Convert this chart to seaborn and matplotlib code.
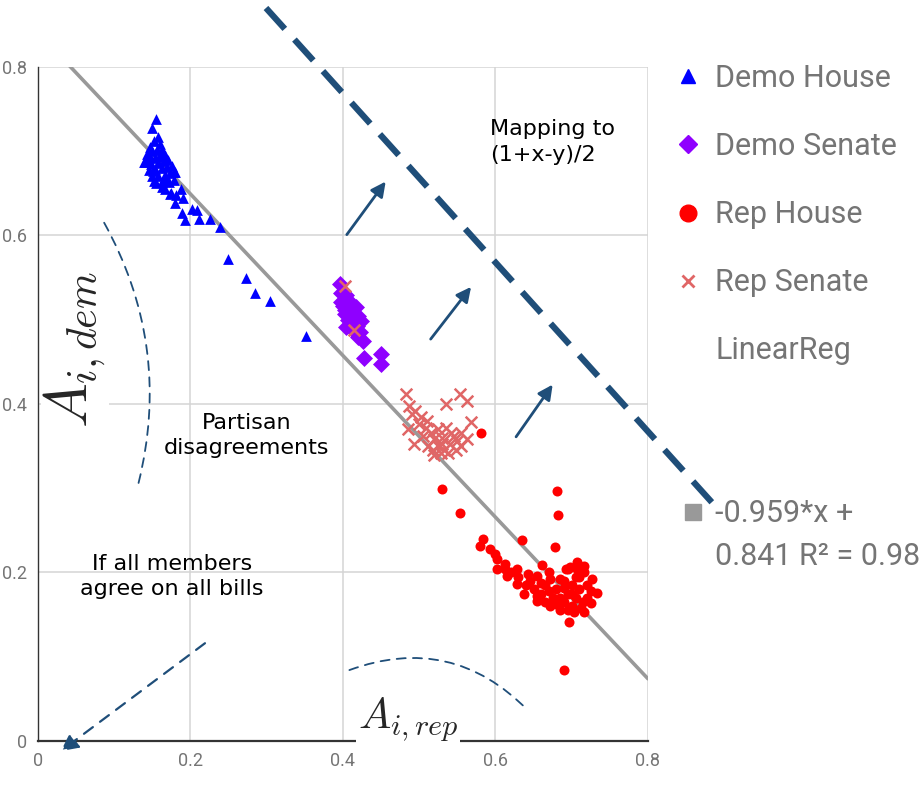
"""
Scatter of Democrat vs Republican agreement scores with the linear fit and the
annotations explaining the mapping to (1+x-y)/2.
"""

import matplotlib
matplotlib.use('Agg')
import matplotlib.pyplot as plt
from matplotlib.lines import Line2D
from matplotlib.patches import FancyArrowPatch
import seaborn as sns
import pandas as pd
import numpy as np

# Points, (A_rep, A_dem)
demo_house = [
    (0.155, 0.738), (0.149, 0.727), (0.158, 0.717), (0.152, 0.712), (0.147, 0.705),
    (0.160, 0.708), (0.143, 0.697), (0.150, 0.700), (0.156, 0.702), (0.163, 0.701),
    (0.145, 0.690), (0.153, 0.692), (0.161, 0.694), (0.167, 0.695), (0.140, 0.687),
    (0.148, 0.685), (0.157, 0.686), (0.165, 0.688), (0.171, 0.690), (0.146, 0.678),
    (0.154, 0.679), (0.162, 0.680), (0.169, 0.681), (0.176, 0.683), (0.150, 0.670),
    (0.158, 0.671), (0.166, 0.672), (0.173, 0.674), (0.180, 0.675), (0.155, 0.662),
    (0.163, 0.663), (0.172, 0.664), (0.178, 0.666), (0.187, 0.655), (0.167, 0.655),
    (0.174, 0.650), (0.181, 0.648), (0.190, 0.645), (0.189, 0.627), (0.193, 0.618),
    (0.202, 0.632), (0.209, 0.630), (0.211, 0.619), (0.226, 0.619), (0.239, 0.610),
    (0.249, 0.572), (0.273, 0.550), (0.284, 0.532), (0.304, 0.522), (0.351, 0.481),
    (0.139, 0.687), (0.152, 0.665), (0.163, 0.657), (0.173, 0.649), (0.180, 0.638),
    (0.178, 0.675), (0.146, 0.695), (0.159, 0.693), (0.151, 0.676), (0.168, 0.667),
]

demo_senate = [
    (0.396, 0.542), (0.398, 0.532), (0.404, 0.529), (0.398, 0.521), (0.408, 0.522),
    (0.412, 0.518), (0.417, 0.515), (0.402, 0.512), (0.409, 0.510), (0.402, 0.507),
    (0.414, 0.506), (0.420, 0.505), (0.424, 0.499), (0.406, 0.500), (0.412, 0.497),
    (0.404, 0.491), (0.418, 0.492), (0.415, 0.487), (0.422, 0.485), (0.426, 0.475),
    (0.428, 0.455), (0.450, 0.459), (0.450, 0.447), (0.400, 0.516), (0.410, 0.503),
    (0.420, 0.480),
]

rep_house = [
    (0.581, 0.366), (0.530, 0.299), (0.554, 0.270), (0.584, 0.240), (0.580, 0.232),
    (0.593, 0.228), (0.600, 0.222), (0.602, 0.216), (0.602, 0.204), (0.635, 0.239),
    (0.681, 0.297), (0.682, 0.268), (0.678, 0.230), (0.661, 0.209), (0.670, 0.200),
    (0.707, 0.213), (0.716, 0.208), (0.697, 0.141), (0.690, 0.084), (0.695, 0.204),
    (0.613, 0.210), (0.628, 0.204), (0.642, 0.198), (0.655, 0.196), (0.672, 0.192),
    (0.685, 0.192), (0.692, 0.204), (0.698, 0.206), (0.707, 0.204), (0.716, 0.200),
    (0.727, 0.192), (0.733, 0.176), (0.725, 0.164), (0.716, 0.153), (0.703, 0.153),
    (0.685, 0.156), (0.672, 0.160), (0.655, 0.166), (0.637, 0.174), (0.628, 0.186),
    (0.615, 0.196), (0.613, 0.204), (0.620, 0.200), (0.640, 0.185), (0.650, 0.180),
    (0.660, 0.175), (0.665, 0.185), (0.675, 0.170), (0.680, 0.180), (0.690, 0.165),
    (0.695, 0.175), (0.700, 0.185), (0.705, 0.170), (0.710, 0.180), (0.715, 0.165),
    (0.720, 0.185), (0.725, 0.178), (0.700, 0.160), (0.690, 0.190), (0.710, 0.195),
    (0.720, 0.170), (0.695, 0.155), (0.685, 0.170), (0.670, 0.178), (0.660, 0.188),
    (0.645, 0.190), (0.630, 0.195), (0.655, 0.172), (0.705, 0.195), (0.712, 0.158),
    (0.700, 0.175), (0.690, 0.182), (0.680, 0.162), (0.665, 0.165),
]

rep_senate = [
    (0.402, 0.540), (0.415, 0.488), (0.482, 0.412), (0.486, 0.398), (0.491, 0.388),
    (0.485, 0.370), (0.493, 0.353), (0.500, 0.376), (0.509, 0.372), (0.505, 0.362),
    (0.515, 0.366), (0.520, 0.358), (0.525, 0.370), (0.530, 0.360), (0.535, 0.400),
    (0.553, 0.412), (0.562, 0.404), (0.568, 0.378), (0.562, 0.358), (0.512, 0.350),
    (0.518, 0.345), (0.525, 0.350), (0.532, 0.345), (0.540, 0.352), (0.545, 0.362),
    (0.550, 0.356), (0.555, 0.366), (0.528, 0.342), (0.538, 0.342), (0.548, 0.345),
    (0.535, 0.372), (0.542, 0.365), (0.502, 0.385), (0.495, 0.392), (0.510, 0.380),
    (0.555, 0.350), (0.530, 0.352), (0.520, 0.340),
]

# Linear regression shown in the legend
REG_SLOPE = -0.959
REG_INTERCEPT = 0.841
REG_R2 = 0.98

TICKS = [0, 0.2, 0.4, 0.6, 0.8]
TICK_LABELS = ["0", "0.2", "0.4", "0.6", "0.8"]

NAVY = "#1f4e79"
GREY_TEXT = "#757575"

sns.set_theme(style="whitegrid")
plt.rcParams['font.family'] = ['DejaVu Sans']
plt.rcParams['mathtext.fontset'] = 'cm'


def to_df(points):
    return pd.DataFrame(points, columns=["rep", "dem"])


fig = plt.figure(figsize=(9.22, 7.86), dpi=100)
ax = fig.add_axes([0.0412, 0.0573, 0.6616, 0.8575])

# Regression line, clipped by the axes limits
reg_x = np.array([0.0, 0.8])
sns.lineplot(x=reg_x, y=REG_SLOPE * reg_x + REG_INTERCEPT, color="#999999", linewidth=2.6, ax=ax, zorder=2)

sns.scatterplot(data=to_df(demo_house), x="rep", y="dem", marker="^", color="#0000ff", s=60, linewidth=0, ax=ax, zorder=3)
sns.scatterplot(data=to_df(demo_senate), x="rep", y="dem", marker="D", color="#8f00ff", s=75, linewidth=0, ax=ax, zorder=3)
sns.scatterplot(data=to_df(rep_house), x="rep", y="dem", marker="o", color="#ff0000", s=52, linewidth=0, ax=ax, zorder=3)
sns.scatterplot(data=to_df(rep_senate), x="rep", y="dem", marker="x", color="#e06666", s=70, linewidth=1.8, ax=ax, zorder=4)

# Axes look
ax.set_xlim(0, 0.8)
ax.set_ylim(0, 0.8)
ax.set_xticks(TICKS, TICK_LABELS)
ax.set_yticks(TICKS, TICK_LABELS)
ax.set_xlabel("")
ax.set_ylabel("")
ax.grid(True, color="#d4d4d4", linewidth=1.1)
ax.tick_params(length=0, pad=8, labelsize=13, colors=GREY_TEXT)
for lbl in ax.get_xticklabels() + ax.get_yticklabels():
    lbl.set_fontfamily("Roboto")
for side in ["top", "right"]:
    ax.spines[side].set_visible(False)
ax.spines["left"].set_color("#333333")
ax.spines["left"].set_linewidth(1.0)
ax.spines["bottom"].set_color("#333333")
ax.spines["bottom"].set_linewidth(1.6)

# Axis labels with white background over the spines/grid
fig.text(75 / 922, 1 - 350 / 786, r"$A_{i,dem}$", rotation=90, fontsize=43, ha="center", va="center",
         bbox=dict(facecolor="white", edgecolor="none", pad=1))
fig.text(408 / 922, 1 - 720 / 786, r"$A_{i,rep}$", fontsize=31, ha="center", va="center",
         bbox=dict(facecolor="white", edgecolor="none", pad=1))

# Big dashed projection line (parallel to the fit) and the arrows pointing to it
ax.plot([0.299, 0.894], [0.870, 0.273], color=NAVY, linewidth=4.5, dashes=(4.5, 2.3), clip_on=False, zorder=5)
for tail, tip in [((0.405, 0.601), (0.456, 0.664)),
                  ((0.515, 0.477), (0.568, 0.539)),
                  ((0.627, 0.361), (0.675, 0.423))]:
    ax.annotate("", xy=tip, xytext=tail,
                arrowprops=dict(arrowstyle="-|>", color=NAVY, lw=2, mutation_scale=22, shrinkA=0, shrinkB=0))

# Dashed brackets
ax.add_patch(FancyArrowPatch((0.085, 0.618), (0.131, 0.303), connectionstyle="arc3,rad=-0.2",
                             arrowstyle="-", linestyle=(0, (5, 4)), color=NAVY, lw=1.3, zorder=5))
ax.add_patch(FancyArrowPatch((0.405, 0.083), (0.645, 0.034), connectionstyle="arc3,rad=-0.33",
                             arrowstyle="-", linestyle=(0, (5, 4)), color=NAVY, lw=1.3, zorder=5))
ax.annotate("", xy=(0.030, -0.012), xytext=(0.219, 0.116), annotation_clip=False,
            arrowprops=dict(arrowstyle="-|>", color=NAVY, lw=1.6, linestyle=(0, (5, 4)),
                            mutation_scale=26, shrinkA=0, shrinkB=0))

# Annotation texts
ax.text(0.593, 0.711, "Mapping to\n(1+x-y)/2", fontsize=16, ha="left", va="center", linespacing=1.35, color="black")
ax.text(0.274, 0.363, "Partisan\ndisagreements", fontsize=16, ha="center", va="center", linespacing=1.3, color="black")
ax.text(0.176, 0.195, "If all members\nagree on all bills", fontsize=16, ha="center", va="center", linespacing=1.3, color="black")

# Legend on the right
handles = [
    Line2D([], [], linestyle="none", marker="^", color="#0000ff", markersize=10),
    Line2D([], [], linestyle="none", marker="D", color="#8f00ff", markersize=9),
    Line2D([], [], linestyle="none", marker="o", color="#ff0000", markersize=12),
    Line2D([], [], linestyle="none", marker="x", color="#e06666", markersize=9, markeredgewidth=2),
    Line2D([], [], linestyle="none"),
]
labels = ["Demo House", "Demo Senate", "Rep House", "Rep Senate", "LinearReg"]
fig.legend(handles, labels, loc="upper left", bbox_to_anchor=(673 / 922, 1 - 64 / 786), frameon=False,
           prop={"family": "Roboto", "size": 22}, labelcolor=GREY_TEXT, handlelength=1.0,
           handletextpad=0.38, labelspacing=1.28, borderpad=0, borderaxespad=0)

# Regression equation entry
fig.add_artist(Line2D([693 / 922], [1 - 512 / 786], marker="s", markersize=12, color="#999999",
                      linestyle="none", transform=fig.transFigure))
fig.text(715 / 922, 1 - 535 / 786, f"{REG_SLOPE:.3f}*x +\n{REG_INTERCEPT:.3f} R\u00b2 = {REG_R2:.2f}",
         fontsize=22, family="Roboto", color=GREY_TEXT, ha="left", va="center", linespacing=1.6)

fig.savefig("out.png", dpi=100)
plt.close(fig)
